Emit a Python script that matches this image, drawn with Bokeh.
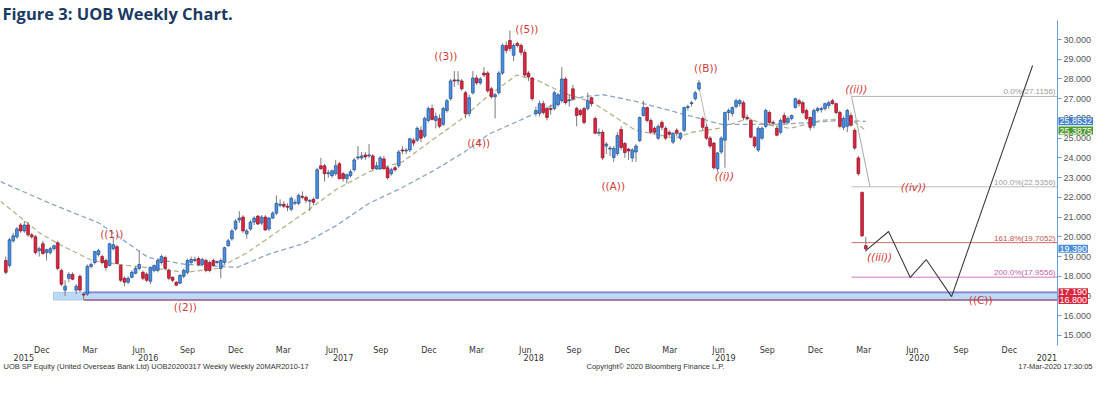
import numpy as np
import pandas as pd
from bokeh.plotting import figure
from bokeh.models import (Range1d, LinearAxis, FixedTicker, NumeralTickFormatter,
                          Label, ColumnDataSource)
from bokeh.core.properties import value
from bokeh.embed import file_html
from bokeh.resources import INLINE

# ---------------- data ----------------
first_week = "2015-09-24"

opens = [
    18.8, 18.55, 19.8, 20.0, 20.6, 20.3, 20.6, 20.1, 20.0, 19.3,
    19.65, 19.2, 19.2, 19.4, 19.7, 18.3, 17.3, 17.9, 18.1, 17.3,
    18.0, 17.1, 17.1, 18.5, 18.7, 19.1, 19.0, 18.8, 18.55, 19.4,
    19.5, 18.55, 17.9, 17.7, 17.95, 18.15, 18.4, 18.2, 18.1, 17.75,
    18.3, 18.3, 18.7, 18.95, 18.3, 17.95, 17.7, 17.65, 18.0, 18.2,
    18.7, 18.8, 18.9, 18.6, 18.8, 18.7, 18.8, 18.7, 18.4, 18.7,
    19.55, 19.9, 20.4, 20.85, 21.0, 20.15, 20.4, 20.75, 21.05, 20.7,
    21.0, 20.4, 20.95, 21.2, 21.6, 21.65, 21.55, 21.4, 21.7, 21.7,
    22.05, 22.0, 21.8, 21.9, 21.95, 23.6, 23.6, 23.2, 23.1, 23.2,
    23.7, 23.2, 22.95, 23.1, 23.4, 24.0, 24.0, 24.15, 24.1, 24.1,
    23.45, 23.45, 23.95, 23.5, 23.2, 23.5, 23.6, 24.4, 24.35, 24.4,
    24.9, 24.9, 25.4, 25.1, 25.9, 26.5, 25.9, 26.0, 25.7, 26.4,
    27.0, 27.95, 27.9, 27.9, 27.3, 26.25, 27.3, 28.05, 27.8, 28.3,
    28.3, 27.5, 27.1, 27.3, 28.3, 29.7, 29.95, 29.2, 29.8, 29.7,
    29.35, 28.3, 28.05, 26.25, 26.25, 26.75, 26.5, 26.5, 26.5, 26.7,
    26.9, 28.0, 26.9, 27.5, 26.5, 26.4, 26.5, 26.5, 27.05, 26.0,
    25.25, 25.3, 24.6, 24.45, 24.02, 24.22, 25.44, 24.73, 24.45, 24.0,
    24.3, 24.88, 26.15, 26.55, 25.9, 25.5, 25.0, 25.8, 25.5, 25.3,
    24.8, 25.4, 25.0, 25.4, 26.55, 26.75, 27.0, 27.5, 26.0, 25.55,
    25.0, 24.75, 23.45, 24.3, 24.9, 26.3, 26.25, 26.6, 26.75, 26.8,
    26.05, 25.9, 25.05, 24.4, 25.0, 25.6, 26.3, 25.8, 25.5, 25.3,
    26.15, 25.8, 26.0, 26.55, 26.9, 26.8, 26.4, 26.05, 25.65, 26.4,
    26.45, 26.5, 26.65, 26.9, 26.75, 26.3, 25.55, 25.6, 26.15, 25.4,
    24.0, 22.25, 19.55,
]
highs = [
    19.0, 19.95, 20.2, 20.5, 20.7, 20.8, 20.75, 20.2, 20.1, 19.5,
    19.8, 19.4, 19.5, 19.6, 19.8, 18.4, 17.8, 18.2, 18.2, 17.6,
    18.1, 17.2, 18.6, 18.7, 19.3, 19.4, 19.1, 18.9, 19.7, 20.0,
    19.6, 18.6, 18.0, 18.0, 18.3, 18.5, 19.3, 18.3, 18.2, 18.5,
    18.6, 18.9, 19.1, 19.05, 18.4, 18.0, 17.75, 18.1, 18.4, 18.9,
    19.0, 19.0, 19.0, 18.95, 18.9, 18.8, 18.9, 18.8, 18.9, 19.5,
    19.9, 20.4, 20.9, 21.3, 21.1, 20.4, 20.85, 21.05, 21.1, 21.1,
    21.1, 21.0, 21.3, 22.1, 21.9, 21.8, 21.7, 22.05, 21.9, 22.2,
    22.3, 22.1, 21.9, 22.0, 23.5, 24.0, 23.7, 23.4, 23.4, 23.9,
    23.8, 23.3, 23.2, 23.4, 24.0, 24.6, 24.3, 24.3, 24.7, 24.2,
    23.8, 24.1, 24.1, 23.6, 23.5, 23.6, 24.4, 24.6, 24.5, 25.0,
    25.0, 25.6, 25.6, 26.1, 26.6, 26.7, 26.3, 26.2, 26.6, 27.0,
    28.0, 28.4, 28.4, 28.0, 27.4, 27.2, 28.4, 28.2, 28.1, 28.6,
    28.4, 27.6, 27.3, 28.4, 29.8, 29.9, 30.45, 29.8, 29.9, 29.8,
    29.5, 28.4, 28.1, 26.6, 26.9, 26.9, 26.6, 26.7, 27.4, 27.3,
    28.6, 28.1, 27.2, 27.7, 26.6, 26.5, 26.6, 27.3, 27.1, 26.1,
    25.5, 25.4, 24.8, 24.6, 24.6, 25.3, 25.6, 24.8, 24.5, 24.5,
    24.7, 26.1, 26.9, 26.6, 26.0, 25.6, 25.7, 25.9, 25.6, 25.4,
    25.3, 25.5, 25.3, 26.6, 26.7, 26.9, 27.4, 27.95, 26.1, 25.7,
    25.1, 24.8, 24.3, 25.1, 26.35, 26.5, 26.6, 27.0, 27.0, 26.9,
    26.2, 26.0, 25.1, 25.6, 25.6, 26.5, 26.4, 25.9, 25.6, 26.0,
    26.3, 26.1, 26.2, 27.05, 27.0, 26.9, 26.5, 26.1, 26.5, 26.6,
    26.6, 26.8, 26.9, 27.0, 26.8, 26.4, 26.1, 26.5, 26.3, 25.5,
    24.1, 22.3, 20.0,
]
lows = [
    18.1, 18.45, 19.7, 19.9, 20.2, 20.2, 20.0, 19.9, 19.1, 19.0,
    19.1, 18.8, 19.1, 19.3, 18.3, 17.5, 17.0, 17.7, 17.8, 17.1,
    17.2, 16.8, 17.0, 18.4, 18.6, 19.0, 18.6, 18.3, 18.5, 19.3,
    18.6, 17.7, 17.5, 17.6, 17.9, 18.1, 18.3, 17.8, 17.7, 17.6,
    18.2, 18.2, 18.6, 18.3, 17.8, 17.7, 17.5, 17.6, 17.9, 18.1,
    18.6, 18.7, 18.5, 18.5, 18.2, 18.2, 18.5, 18.6, 17.9, 18.6,
    19.5, 19.8, 20.3, 20.7, 20.2, 19.9, 20.3, 20.6, 20.6, 20.6,
    20.3, 20.3, 20.9, 21.1, 21.5, 21.45, 21.3, 21.3, 21.6, 21.6,
    21.9, 21.7, 21.3, 21.6, 21.9, 23.4, 22.8, 23.0, 23.0, 23.1,
    22.9, 22.8, 22.7, 23.0, 23.3, 23.9, 23.9, 23.9, 24.0, 23.4,
    23.4, 23.4, 23.4, 22.9, 23.1, 23.3, 23.5, 24.2, 24.2, 24.3,
    24.6, 24.8, 24.8, 25.0, 25.8, 25.9, 25.5, 25.5, 25.6, 26.3,
    26.9, 27.6, 27.7, 27.4, 26.0, 26.1, 27.2, 27.7, 27.7, 28.1,
    27.3, 27.0, 26.0, 27.2, 28.2, 29.3, 29.4, 28.9, 29.6, 29.2,
    28.1, 27.9, 26.9, 26.1, 26.1, 26.2, 25.9, 26.2, 26.4, 26.6,
    26.8, 26.7, 26.6, 26.9, 25.6, 26.1, 25.7, 26.4, 26.6, 25.2,
    25.1, 23.9, 24.2, 24.1, 23.8, 24.1, 24.4, 24.0, 23.9, 23.8,
    23.8, 24.8, 26.1, 25.8, 25.2, 25.2, 24.9, 25.4, 24.9, 25.1,
    24.7, 25.1, 24.9, 25.3, 26.4, 26.6, 26.9, 27.4, 25.4, 24.9,
    24.5, 23.4, 23.3, 24.2, 23.5, 25.9, 26.1, 26.5, 26.6, 25.9,
    25.9, 25.0, 24.5, 24.3, 24.9, 25.5, 25.7, 25.6, 25.1, 25.2,
    25.7, 25.7, 25.9, 26.5, 26.6, 26.2, 25.9, 25.4, 25.5, 26.3,
    26.3, 26.4, 26.5, 26.7, 26.2, 25.5, 25.4, 25.3, 25.6, 24.4,
    23.1, 20.0, 19.25,
]
closes = [
    18.2, 19.85, 20.05, 20.4, 20.3, 20.6, 20.1, 20.0, 19.2, 19.4,
    19.15, 19.35, 19.4, 19.55, 18.4, 17.6, 17.5, 18.1, 17.85, 17.5,
    17.3, 17.05, 18.5, 18.6, 19.25, 19.3, 18.7, 18.45, 19.65, 19.6,
    18.65, 17.8, 17.7, 17.9, 18.2, 18.4, 18.6, 17.9, 17.8, 18.45,
    18.55, 18.8, 19.0, 18.4, 17.9, 17.8, 17.55, 18.05, 18.3, 18.8,
    18.85, 18.85, 18.6, 18.85, 18.3, 18.3, 18.55, 18.75, 18.8, 19.45,
    19.8, 20.3, 20.8, 20.95, 20.3, 20.3, 20.75, 20.95, 20.65, 21.0,
    20.35, 20.95, 21.2, 21.7, 21.65, 21.55, 21.5, 21.95, 21.75, 22.1,
    22.0, 21.85, 21.85, 21.75, 23.4, 23.45, 23.2, 23.25, 23.35, 23.6,
    22.95, 22.95, 23.15, 23.3, 23.9, 24.05, 24.1, 24.05, 24.15, 23.45,
    23.6, 24.0, 23.45, 23.0, 23.4, 23.4, 24.3, 24.35, 24.4, 24.97,
    24.75, 25.5, 25.0, 26.0, 26.5, 25.95, 26.1, 25.6, 26.5, 26.9,
    27.9, 27.9, 27.95, 27.5, 26.25, 27.05, 28.05, 27.8, 28.0, 28.2,
    27.4, 27.1, 27.2, 28.3, 29.7, 29.45, 29.55, 29.7, 29.7, 29.35,
    28.2, 28.1, 27.0, 26.4, 26.75, 26.3, 26.05, 26.45, 27.3, 27.2,
    28.0, 26.8, 26.95, 27.0, 26.15, 26.2, 25.8, 26.9, 26.75, 25.25,
    25.3, 24.0, 24.7, 24.5, 24.48, 25.13, 24.53, 24.27, 24.35, 24.4,
    24.6, 26.05, 26.55, 25.9, 25.3, 25.3, 25.6, 25.55, 25.0, 25.2,
    25.25, 25.25, 25.25, 26.55, 26.6, 26.8, 27.3, 27.8, 25.55, 25.0,
    24.6, 23.5, 24.25, 25.0, 26.3, 26.4, 26.55, 26.9, 26.9, 26.05,
    26.0, 25.05, 24.6, 25.5, 25.5, 26.4, 25.8, 25.75, 25.15, 25.9,
    25.8, 26.0, 26.15, 27.0, 26.75, 26.3, 26.0, 25.55, 26.4, 26.5,
    26.5, 26.75, 26.8, 26.75, 26.3, 25.6, 26.0, 26.4, 25.65, 24.5,
    23.2, 20.05, 19.39,
]

ma_short_dates = ["2015-09-14", "2015-10-21", "2015-11-27", "2016-01-04", "2016-03-05",
                  "2016-04-24", "2016-07-02", "2016-08-28", "2016-10-28", "2016-12-23",
                  "2017-02-04", "2017-04-09", "2017-06-09", "2017-08-10", "2017-10-12",
                  "2017-12-07", "2018-01-28", "2018-03-21", "2018-05-16", "2018-06-26",
                  "2018-08-12", "2018-10-07", "2018-12-26", "2019-03-11", "2019-04-12",
                  "2019-06-01", "2019-07-27", "2019-08-26", "2019-10-15", "2019-12-10",
                  "2020-02-04", "2020-03-05"]
ma_short_vals = [21.8, 21.0, 20.2, 19.6, 18.8,
                 18.6, 18.4, 18.2, 18.4, 19.2,
                 20.0, 21.2, 22.4, 23.3, 23.8,
                 24.9, 25.9, 27.1, 28.2, 27.9,
                 27.3, 26.8, 25.4, 25.0, 25.3,
                 25.5, 26.0, 25.7, 25.5, 25.9,
                 26.0, 25.39]

ma_long_dates = ["2015-09-14", "2015-12-16", "2016-03-18", "2016-06-19", "2016-08-28",
                 "2016-12-04", "2017-02-04", "2017-04-09", "2017-06-09", "2017-08-10",
                 "2017-10-12", "2017-12-13", "2018-02-06", "2018-03-24", "2018-05-30",
                 "2018-07-25", "2018-09-19", "2018-10-26", "2018-12-21", "2019-02-15",
                 "2019-04-12", "2019-06-07", "2019-08-02", "2019-09-27", "2019-11-22",
                 "2020-01-17", "2020-03-05"]
ma_long_vals = [22.8, 21.7, 20.7, 18.95, 18.6,
                18.45, 19.15, 19.66, 20.57, 21.7,
                22.5, 23.4, 24.3, 25.2, 26.0,
                26.7, 27.1, 27.2, 26.9, 26.5,
                26.1, 25.7, 25.7, 25.7, 25.8,
                25.9, 25.85]

fib_levels = [27.1156, 22.5356, 19.7052, 17.9556]
fib_texts = ["0.0%(27.1156)", "100.0%(22.5356)", "161.8%(19.7052)", "200.0%(17.9556)"]
fib_start = "2020-02-07"
fib_diag_dates = ["2020-02-07", "2020-03-13"]
fib_diag_vals = [27.1156, 22.5356]

support_top = 17.19
support_bottom = 16.80
support_band_start = "2015-12-23"
support_line_start = "2016-02-19"

proj_dates = ["2020-03-05", "2020-04-17", "2020-05-28", "2020-06-27", "2020-08-14", "2021-01-14"]
proj_vals = [19.3, 20.27, 17.94, 18.85, 16.97, 28.68]

b_line_dates = ["2019-04-23", "2019-05-13"]
b_line_vals = [27.82, 25.24]

wave_texts = ["((1))", "((2))", "((3))", "((4))", "((5))", "((A))", "((B))", "((C))"]
wave_dates = ["2016-04-11", "2016-08-28", "2018-01-02", "2018-03-05", "2018-06-04",
              "2018-11-14", "2019-05-08", "2020-10-08"]
wave_vals = [20.12, 16.42, 29.14, 24.73, 30.51, 22.6, 28.58, 16.82]

subwave_texts = ["((i))", "((ii))", "((iii))", "((iv))"]
subwave_dates = ["2019-06-12", "2020-02-16", "2020-03-31", "2020-06-03"]
subwave_vals = [23.1, 27.47, 19.0, 22.55]

tag_texts = ["25.8532", "25.3875", "19.390", "17.190", "16.800"]
tag_vals = [25.8532, 25.3875, 19.39, 17.19, 16.80]

price_ticks = list(range(15, 31))
month_names = {3: "Mar", 6: "Jun", 9: "Sep", 12: "Dec"}
month_tick_dates = [f"{y}-{m:02d}-01" for y in range(2015, 2021) for m in (3, 6, 9, 12)
                    if "2015-12-01" <= f"{y}-{m:02d}-01" <= "2020-12-01"]
year_labels = ["2015", "2016", "2017", "2018", "2019", "2020", "2021"]
year_label_dates = ["2015-10-28", "2016-06-19", "2017-06-22", "2018-06-17",
                    "2019-06-14", "2020-06-14", "2021-02-10"]

# layout (view window, axis placement)
range_start, axis_date, range_end = "2015-09-14", "2021-03-02", "2021-05-09"
price_low, price_high = 12.567, 31.977          # whole canvas
axis_low, axis_high = 14.49, 30.96              # drawn price axis extent
month_row, year_row = 14.49, 14.06

assert len(opens) == len(highs) == len(lows) == len(closes)


# ---------------- helpers ----------------
def ms(d):
    return pd.Timestamp(d).timestamp() * 1000.0


DAY = 86400000.0

week_dates = pd.date_range(first_week, periods=len(closes), freq="7D")
xs = np.array([ms(d) for d in week_dates])
o = np.array(opens)
h = np.array(highs)
lo = np.array(lows)
c = np.array(closes)
up = c >= o

src_all = ColumnDataSource(dict(x=xs, high=h, low=lo))
src_up = ColumnDataSource(dict(x=xs[up], top=c[up], bottom=o[up]))
src_dn = ColumnDataSource(dict(x=xs[~up], top=o[~up], bottom=c[~up]))

x0, xa, x1 = ms(range_start), ms(axis_date), ms(range_end)

W, H = 1093, 383
p = figure(width=W, height=H, output_backend="svg", toolbar_location=None,
           x_range=Range1d(x0, x1), y_range=Range1d(price_low, price_high),
           x_axis_type=None, y_axis_type=None,
           min_border_left=0, min_border_right=0, min_border_top=0, min_border_bottom=0)
p.outline_line_color = None
p.background_fill_color = "white"
p.border_fill_color = "white"

# support band
p.quad(left=[ms(support_band_start)], right=[xa], top=[support_top], bottom=[support_bottom],
       fill_color="#bcd9f6", line_color="#a8caee", line_width=1)
p.segment(x0=[ms(support_line_start)] * 2, x1=[xa, xa],
          y0=[support_top, support_bottom], y1=[support_top, support_bottom],
          line_color=["#8a7fd0", "#a65a7c"], line_width=[1.8, 1.4])

# moving averages
p.line([ms(d) for d in ma_long_dates], ma_long_vals, line_color="#8aa5c6",
       line_width=1.3, line_dash="5 3")
p.line([ms(d) for d in ma_short_dates], ma_short_vals, line_color="#b4b48e",
       line_width=1.3, line_dash="5 3")

# fibonacci levels
fib_line_colors = ["#b4b4b4", "#bdbdbd", "#d46a6a", "#cc77b8"]
fib_text_colors = ["#9a9a9a", "#a0a0a0", "#c85050", "#c060a8"]
p.segment(x0=[ms(fib_start)] * 4, x1=[xa] * 4, y0=fib_levels, y1=fib_levels,
          line_color=fib_line_colors, line_width=1)
p.line([ms(d) for d in fib_diag_dates], fib_diag_vals, line_color="#a8a8a8", line_width=1)
p.line([ms(d) for d in b_line_dates], b_line_vals, line_color="#b8b8b8", line_width=1)
p.text(x=[xa] * 4, y=fib_levels, text=fib_texts, text_align="right", text_baseline="bottom",
       x_offset=-2, y_offset=0, text_font=value("Liberation Sans"), text_font_size="8px",
       text_color=fib_text_colors)

# candles
p.segment(x0="x", y0="low", x1="x", y1="high", source=src_all, line_color="#7a7a7a", line_width=1)
p.vbar(x="x", width=5.2 * DAY, top="top", bottom="bottom", source=src_up,
       fill_color="#4a8fe0", line_color="#1e4f92", line_width=0.7)
p.vbar(x="x", width=5.2 * DAY, top="top", bottom="bottom", source=src_dn,
       fill_color="#e0233f", line_color="#8a1226", line_width=0.7)

# projection path
p.line([ms(d) for d in proj_dates], proj_vals, line_color="#3c3c3c", line_width=1.1)

# wave labels
p.text(x=[ms(d) for d in wave_dates], y=wave_vals, text=wave_texts, text_align="center",
       text_baseline="middle", text_font=value("DejaVu Sans"), text_font_size="10.5px",
       text_color="#cc3a3a")
p.text(x=[ms(d) for d in subwave_dates], y=subwave_vals, text=subwave_texts, text_align="center",
       text_baseline="middle", text_font=value("DejaVu Sans"), text_font_size="10.5px",
       text_font_style="italic", text_color="#cc3a3a")

# right price axis (placed at the axis date inside the canvas)
yaxis = LinearAxis(ticker=FixedTicker(ticks=price_ticks, minor_ticks=[]),
                   formatter=NumeralTickFormatter(format="0.000"),
                   fixed_location=xa, bounds=(axis_low, axis_high))
yaxis.axis_line_color = "#6a9fd6"
yaxis.major_tick_line_color = "#6a9fd6"
yaxis.major_tick_out = 4
yaxis.major_tick_in = 0
yaxis.minor_tick_line_color = None
yaxis.major_label_standoff = 2
yaxis.major_label_text_font = "Liberation Sans"
yaxis.major_label_text_font_size = "9px"
yaxis.major_label_text_color = "#555555"
p.add_layout(yaxis, "right")

# bottom axes: months, then years
month_ms = [ms(d) for d in month_tick_dates]
month_axis = LinearAxis(ticker=FixedTicker(ticks=month_ms, minor_ticks=[]),
                        major_label_overrides={t: month_names[pd.Timestamp(d).month]
                                               for t, d in zip(month_ms, month_tick_dates)},
                        fixed_location=month_row)
year_ms = [ms(d) for d in year_label_dates]
year_axis = LinearAxis(ticker=FixedTicker(ticks=year_ms, minor_ticks=[]),
                       major_label_overrides={t: s for t, s in zip(year_ms, year_labels)},
                       fixed_location=year_row)
for ax in (month_axis, year_axis):
    ax.axis_line_color = None
    ax.major_tick_line_color = None
    ax.minor_tick_line_color = None
    ax.major_tick_out = 0
    ax.major_tick_in = 0
    ax.major_label_standoff = 0
    ax.major_label_text_font = "DejaVu Sans"
    ax.major_label_text_font_size = "8px"
    ax.major_label_text_color = "#333333"
p.add_layout(month_axis, "below")
p.add_layout(year_axis, "below")

# price tags just right of the price axis
tag_colors = ["#3f7fcf", "#4e9a2a", "#4a8fdc", "#d8263e", "#d8263e"]
for t, v, col in zip(tag_texts, tag_vals, tag_colors):
    p.add_layout(Label(x=xa, y=v, text=t, x_offset=1, text_baseline="middle", text_align="left",
                       text_font="Liberation Sans", text_font_size="9px", text_color="white",
                       background_fill_color=col, padding=1))

# title and footer (screen units, measured from the bottom of the canvas)
p.add_layout(Label(x=2, y=H - 1, x_units="screen", y_units="screen",
                   text="Figure 3: UOB Weekly Chart.", text_font="Open Sans",
                   text_font_style="bold", text_font_size="16.5px", text_color="#1b3a63",
                   text_baseline="top", text_align="left"))
foot = dict(y=H - 366, x_units="screen", y_units="screen", text_font="Liberation Sans",
            text_font_size="7.5px", text_color="#333333", text_baseline="middle")
p.add_layout(Label(x=3, text_align="left",
                   text="UOB SP Equity (United Overseas Bank Ltd) UOB20200317 Weekly  Weekly 20MAR2010-17",
                   **foot))
p.add_layout(Label(x=655, text_align="center",
                   text="Copyright\u00a9 2020 Bloomberg Finance L.P.", **foot))
p.add_layout(Label(x=W - 1, text_align="right", text="17-Mar-2020 17:30:05", **foot))

open("out.html", "w").write(file_html(p, INLINE))
